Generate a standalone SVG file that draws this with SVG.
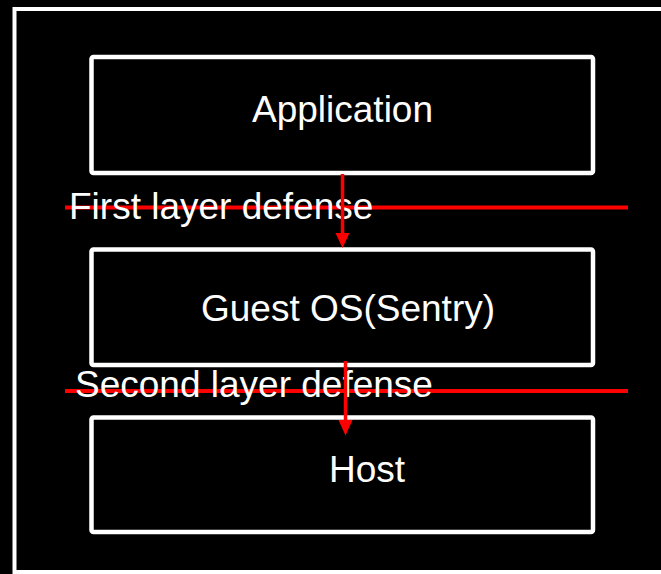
<svg xmlns="http://www.w3.org/2000/svg" width="661" height="574" viewBox="0 0 661 574">
  <defs>
    <style>
      .frame { fill: none; stroke: #ffffff; stroke-width: 4; }
      .box { fill: #000000; stroke: #ffffff; stroke-width: 4.5; }
      .label { font-family: "Liberation Sans", Arial, sans-serif; font-size: 37px; fill: #ffffff; }
      .boundary { stroke: #ff0000; stroke-width: 4; fill: none; }
      .flow { stroke: #ff0000; stroke-width: 3.5; fill: none; }
      .head { fill: #ff0000; stroke: none; }
    </style>
  </defs>

  <rect x="0" y="0" width="661" height="574" fill="#000000"/>

  <!-- outer container -->
  <rect class="frame" x="14.5" y="9" width="700" height="563"/>

  <!-- defense boundaries -->
  <g id="boundaries">
    <line class="boundary" x1="65" y1="207.5" x2="628" y2="207.5"/>
    <line class="boundary" x1="65" y1="391" x2="628" y2="391"/>
  </g>

  <g id="application">
    <rect class="box" x="91.5" y="57" width="501.5" height="116" rx="2"/>
    <text class="label" x="252" y="122">Application</text>
  </g>

  <g id="guest-os">
    <rect class="box" x="91.5" y="249.5" width="501.5" height="115.5" rx="2"/>
    <text class="label" x="201" y="321">Guest OS(Sentry)</text>
  </g>

  <g id="host">
    <rect class="box" x="91.5" y="417.5" width="501.5" height="114.5" rx="2"/>
    <text class="label" x="329" y="482">Host</text>
  </g>

  <g id="boundary-labels">
    <text class="label" x="69" y="219">First layer defense</text>
    <text class="label" x="75" y="397">Second layer defense</text>
  </g>

  <!-- downward calls crossing each boundary -->
  <g id="connectors">
    <line class="flow" x1="342.5" y1="174" x2="342.5" y2="235"/>
    <polygon class="head" points="335.5,233 349.5,233 342.5,248"/>
    <line class="flow" x1="345.5" y1="361" x2="345.5" y2="422"/>
    <polygon class="head" points="338.5,420 352.5,420 345.5,435.5"/>
  </g>
</svg>
